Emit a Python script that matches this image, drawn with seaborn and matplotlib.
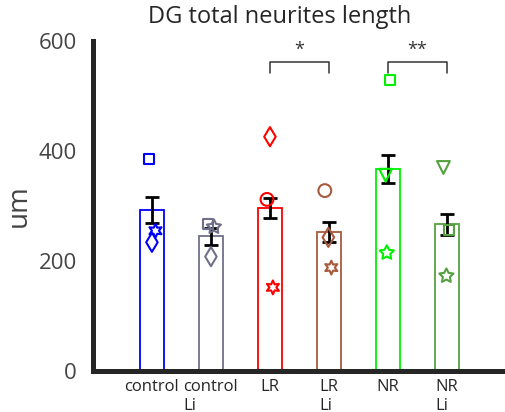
import numpy as np
import pandas as pd
import matplotlib
matplotlib.use("Agg")
import matplotlib.pyplot as plt
import matplotlib.transforms as mtrans
import seaborn as sns

# ---- data ----
groups = ["control", "control Li", "LR", "LR Li", "NR", "NR Li"]
tick_labels = ["control", "control\nLi", "LR", "LR\nLi", "NR", "NR\nLi"]
means = [293, 245, 296, 253, 367, 267]
sems = [23, 15, 18, 18, 25, 19]
colors = ["#0000ff", "#70708a", "#ff0000", "#a85a3c", "#00f000", "#55a040"]

pt_group = ["control", "control", "control",
            "control Li", "control Li", "control Li",
            "LR", "LR", "LR",
            "LR Li", "LR Li", "LR Li",
            "NR", "NR", "NR",
            "NR Li", "NR Li", "NR Li"]
pt_value = [386, 255, 234,
            267, 262, 208,
            426, 312, 152,
            328, 243, 188,
            529, 356, 215,
            370, 256, 173]
pt_shape = ["square", "hexagram", "diamond",
            "square", "pentagram", "diamond",
            "diamond", "circle", "hexagram",
            "circle", "diamond", "hexagram",
            "square", "triangle", "pentagram",
            "triangle", "square", "pentagram"]
pt_jitter = [-0.05, 0.06, 0.0,
             -0.05, 0.05, 0.0,
             0.0, -0.05, 0.05,
             -0.07, -0.01, 0.04,
             0.04, -0.04, -0.02,
             -0.06, 0.03, -0.01]

sig_pairs = [("LR", "LR Li", "*"), ("NR", "NR Li", "**")]
sig_y = 562
sig_leg = 20

marker_map = {"square": "s", "hexagram": (6, 1, 0), "diamond": "d",
              "pentagram": (5, 1, 0), "circle": "o", "triangle": "v"}
marker_size = {"square": 55, "hexagram": 100, "diamond": 95,
               "pentagram": 115, "circle": 85, "triangle": 85}

# ---- figure ----
sns.set_theme(style="white")
plt.rcParams["font.family"] = ["Open Sans", "DejaVu Sans"]

W, H = 506, 412
fig = plt.figure(figsize=(W / 100, H / 100), dpi=100)
ax_l, ax_b = 93.5 / W, 41 / H
ax = fig.add_axes([ax_l, ax_b, 1 - ax_l, 330 / H])

df_bar = pd.DataFrame({"group": groups, "mean": means})
sns.barplot(data=df_bar, x="group", y="mean", hue="group", palette=colors,
            fill=False, width=0.41, linewidth=1.3, legend=False, ax=ax,
            errorbar=None, order=groups)

xpos = np.arange(len(groups))
ax.errorbar(xpos, means, yerr=sems, fmt="none", ecolor="black",
            elinewidth=2.0, capsize=5.2, capthick=2.0, zorder=5)

gidx = {g: i for i, g in enumerate(groups)}
for g, v, s, j in zip(pt_group, pt_value, pt_shape, pt_jitter):
    c = colors[gidx[g]]
    n_before = len(ax.collections)
    sns.scatterplot(x=[gidx[g] + j], y=[v], marker=marker_map[s],
                    s=marker_size[s], color=c, ax=ax, zorder=6)
    coll = ax.collections[n_before]
    coll.set_edgecolor(c)
    coll.set_facecolor("none")
    coll.set_linewidth(1.5)

for a, b, lab in sig_pairs:
    xa, xb = gidx[a], gidx[b]
    ax.plot([xa, xa, xb, xb], [sig_y - sig_leg, sig_y, sig_y, sig_y - sig_leg],
            color="#333333", lw=1.1, clip_on=False, zorder=7)
    ax.text((xa + xb) / 2, sig_y + 6, lab, ha="center", va="bottom",
            fontsize=13, color="#333333")

ax.set_xlim(-0.99, 6.0)
ax.set_ylim(0, 600)
ax.set_yticks([0, 200, 400, 600])
ax.set_xticks(xpos)
ax.set_xticklabels(tick_labels, fontsize=12, color="#262626",
                   multialignment="left")
offsets = [5, 11, 5, 3, 6, 6]
for lbl, off in zip(ax.get_xticklabels(), offsets):
    lbl.set_transform(lbl.get_transform() +
                      mtrans.ScaledTranslation(off / 100, 0, fig.dpi_scale_trans))
ax.tick_params(axis="x", length=0, pad=6)
ax.tick_params(axis="y", direction="in", length=4, width=3, colors="#262626",
               labelsize=16, labelcolor="#444444", pad=12)
ax.set_xlabel("")
ax.set_ylabel("um", fontsize=20, color="#444444", labelpad=4)

for side in ["top", "right"]:
    ax.spines[side].set_visible(False)
for side in ["left", "bottom"]:
    ax.spines[side].set_linewidth(3.6)
    ax.spines[side].set_color("#262626")
    ax.spines[side].set_capstyle("projecting")

fig.text(280 / W, 1 - 23 / H, "DG total neurites length", ha="center",
         va="baseline", fontsize=17, color="#262626")

fig.savefig("out.png", dpi=100)
